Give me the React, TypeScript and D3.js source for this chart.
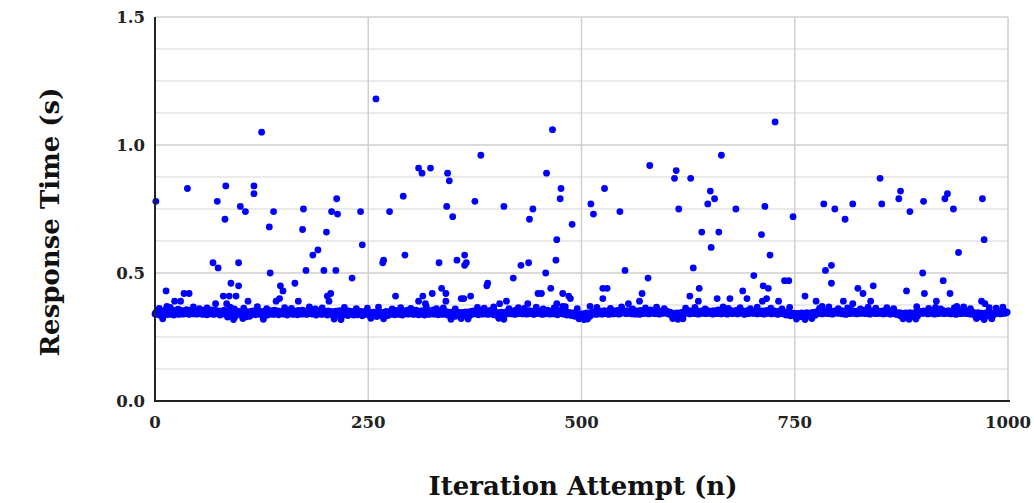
import React from "react";
import * as d3 from "d3";

// baseline response times (ms), one per iteration 0..999
const baselineMs = [
  340,345,338,350,342,347,335,352,344,339,348,341,355,337,346,343,350,338,352,345,341,349,336,354,343,347,340,351,338,356,344,342,348,339,353,346,341,357,343,350,338,355,346,342,351,340,348,344,353,339,
  347,352,341,356,344,349,338,355,346,342,350,337,353,345,348,340,356,343,351,338,347,354,341,349,345,352,336,350,343,348,339,355,344,341,351,328,346,353,340,349,334,345,352,338,330,347,343,351,339,345,
  342,336,349,332,345,340,351,329,347,338,343,331,350,344,339,352,341,348,337,354,343,346,340,351,338,347,335,327,344,352,340,348,336,350,343,339,353,341,347,338,355,344,349,340,352,337,346,343,350,341,
  348,339,353,342,347,336,351,344,340,356,343,349,338,352,345,341,350,337,354,346,342,348,339,355,344,340,351,347,338,353,343,349,341,357,345,339,350,344,348,336,352,342,347,340,354,345,338,351,343,349,
  341,347,336,352,344,339,350,343,337,348,326,345,351,338,346,340,353,335,327,349,342,336,350,344,339,347,334,352,341,345,338,350,343,336,348,340,354,337,346,342,351,339,345,333,349,341,347,338,352,344,
  340,336,345,331,342,338,347,333,344,339,330,346,341,335,348,337,343,332,345,339,336,350,341,334,347,343,338,352,345,340,349,337,354,344,341,351,338,347,343,350,336,353,345,340,348,342,355,339,346,343,
  349,341,352,338,346,343,355,340,348,337,351,344,339,353,342,347,336,350,345,341,354,338,347,343,351,340,356,344,339,348,342,352,337,346,341,350,345,338,353,343,347,340,349,336,344,339,332,347,335,342,
  338,345,331,341,336,347,333,343,339,329,346,337,342,334,348,340,335,344,331,349,342,338,351,344,340,353,346,341,348,337,352,345,343,350,339,355,344,347,341,351,338,346,343,354,340,348,345,337,352,344,
  339,334,345,330,341,336,347,332,343,329,338,346,341,350,344,348,342,353,340,347,345,351,338,355,346,343,349,341,352,344,347,340,354,345,342,350,339,348,346,353,341,347,344,351,338,349,345,356,342,348,
  343,350,341,347,338,352,345,340,349,344,355,342,348,339,351,346,343,353,340,347,345,350,337,354,344,341,348,346,352,339,345,342,350,336,347,343,338,345,334,341,337,344,331,339,346,335,342,332,340,329,
  336,330,341,327,338,333,344,329,339,335,331,343,338,346,341,349,343,338,352,345,340,348,343,351,339,347,345,353,341,348,344,350,338,355,346,342,349,340,352,344,347,341,354,345,339,350,343,348,346,351,
  344,350,341,353,347,342,349,345,355,340,348,344,351,339,352,346,343,350,338,354,345,341,348,347,353,342,349,344,351,340,347,356,343,348,345,352,341,350,346,344,353,339,348,345,351,342,347,349,344,352,
  343,349,340,347,338,345,336,330,342,334,339,328,344,337,332,341,335,346,331,340,345,349,342,351,347,344,353,340,348,346,350,343,355,341,349,345,352,339,347,344,351,348,342,354,345,350,341,347,353,344,
  348,342,351,345,339,353,347,344,350,341,356,346,343,349,340,352,345,348,342,354,347,339,351,344,349,346,353,341,348,345,350,343,355,340,347,344,352,346,349,342,351,338,347,345,353,341,348,344,350,343,
  346,351,342,349,345,353,340,348,344,350,347,341,352,345,339,349,343,354,346,342,348,344,351,340,347,353,345,349,342,350,338,346,344,352,341,348,345,343,339,347,336,344,341,337,345,333,342,339,335,343,
  337,331,340,328,342,335,339,330,344,333,338,327,341,336,345,332,339,343,334,340,329,346,338,342,335,348,344,341,350,346,343,352,340,348,345,351,342,349,347,353,341,346,344,350,339,348,345,352,343,347,
  345,351,342,348,346,353,340,347,344,350,338,349,345,352,341,347,343,354,346,342,349,344,351,340,348,345,353,342,347,350,343,346,355,341,349,344,351,347,339,348,345,352,343,350,346,341,354,344,348,342,
  349,343,351,346,340,353,345,348,342,350,344,347,339,352,345,341,349,343,346,338,344,340,336,345,339,331,342,335,340,329,344,337,333,341,328,345,338,334,342,330,339,346,336,343,332,341,347,344,350,342,
  346,352,343,349,345,351,340,348,344,353,342,347,345,350,339,348,346,352,341,349,344,347,343,355,345,341,350,346,348,342,353,344,347,340,351,345,349,343,352,338,347,344,350,346,341,348,353,345,342,349,
  344,350,341,347,345,352,339,348,343,346,338,344,331,341,336,345,333,340,329,343,337,334,342,330,339,345,335,341,332,344,338,331,343,336,340,346,342,349,344,351,345,340,348,343,350,346,342,349,345,347,
];

// iterations that stick out just above / below the main band
const fringeN = [
  5, 18, 27, 45, 52, 61, 88, 93, 104, 120, 131, 152, 160, 181, 188, 196, 222, 236, 249, 262,
  278, 288, 300, 318, 330, 338, 352, 378, 386, 397, 415, 426, 433, 447, 455, 468, 481, 495, 518, 534,
  547, 560, 575, 588, 597, 622, 633, 645, 666, 672, 686, 698, 706, 722, 735, 744, 779, 790, 801, 812,
  827, 836, 845, 858, 866, 893, 907, 915, 921, 937, 948, 956, 978, 986, 994,
  9, 92, 103, 127, 210, 218, 253, 268, 347, 359, 367, 403, 409, 497, 503, 507, 607, 613, 619, 752,
  762, 770, 877, 884, 892, 963, 972, 981,
];
const fringeMs = [
  362, 366, 359, 368, 361, 364, 367, 360, 363, 369, 361, 365, 362, 368, 360, 364, 366, 361, 363, 367,
  360, 365, 362, 369, 361, 364, 360, 366, 363, 368, 361, 365, 362, 367, 360, 364, 369, 361, 366, 362,
  368, 360, 364, 367, 361, 363, 366, 360, 368, 362, 365, 361, 367, 363, 360, 366, 362, 368, 361, 364,
  360, 367, 363, 365, 361, 369, 362, 366, 360, 364, 368, 361, 365, 363, 367,
  321, 318, 322, 319, 320, 318, 323, 321, 319, 322, 320, 323, 319, 321, 318, 320, 322, 319, 321, 320,
  318, 322, 321, 319, 320, 322, 318, 321,
];

// slow iterations (iteration, seconds)
const outlierN = [
  1, 38, 125, 83, 73, 82, 116, 116, 100, 106, 134, 139, 174, 173, 213, 207, 214, 201, 241, 243,
  68, 74, 98, 135, 185, 191, 177, 198, 212, 231, 13, 34, 40, 89, 98, 80, 87, 95, 147, 150,
  164, 202, 206, 204, 23, 30, 14, 71, 84, 109, 146, 142, 168,
  259, 466, 382, 309, 313, 323, 343, 345, 459, 291, 275, 342, 349, 375, 409, 439, 443,
  476, 475, 489, 471, 470, 458, 464, 267, 268, 293, 333, 354, 363, 363, 365, 429, 438, 420,
  390, 389, 282, 314, 325, 336, 341, 309, 341, 359, 362, 370, 449, 453, 478, 485, 487, 412,
  404, 437, 471, 317, 478,
  727, 664, 580, 611, 609, 628, 527, 511, 514, 545, 614, 651, 656, 648, 681, 715, 748, 641,
  661, 652, 711, 721, 551, 631, 578, 702, 713, 719, 738, 743, 525, 530, 525, 571, 568, 638,
  627, 659, 674, 689, 694, 717, 712, 731, 637, 510, 555,
  850, 784, 797, 809, 818, 852, 874, 872, 885, 901, 929, 926, 936, 970, 972, 942, 786, 793,
  793, 900, 924, 824, 830, 842, 881, 902, 932, 762, 775, 807, 839, 916, 969, 973, 782, 818, 940,
];
const outlierT = [
  0.78, 0.83, 1.05, 0.84, 0.78, 0.71, 0.84, 0.81, 0.76, 0.74, 0.68, 0.74, 0.75, 0.67, 0.79, 0.74, 0.73, 0.66, 0.74, 0.61,
  0.54, 0.52, 0.54, 0.50, 0.57, 0.59, 0.51, 0.51, 0.51, 0.48, 0.43, 0.42, 0.42, 0.46, 0.45, 0.41, 0.41, 0.41, 0.45, 0.43,
  0.46, 0.41, 0.42, 0.39, 0.39, 0.39, 0.37, 0.38, 0.38, 0.39, 0.40, 0.39, 0.39,
  1.18, 1.06, 0.96, 0.91, 0.89, 0.91, 0.89, 0.86, 0.89, 0.80, 0.74, 0.76, 0.72, 0.78, 0.76, 0.71, 0.75,
  0.83, 0.79, 0.69, 0.63, 0.55, 0.50, 0.44, 0.54, 0.55, 0.57, 0.54, 0.55, 0.57, 0.53, 0.54, 0.53, 0.54, 0.48,
  0.46, 0.45, 0.41, 0.41, 0.42, 0.44, 0.42, 0.39, 0.39, 0.40, 0.40, 0.41, 0.42, 0.42, 0.42, 0.41, 0.40, 0.39,
  0.38, 0.38, 0.38, 0.38, 0.37,
  1.09, 0.96, 0.92, 0.90, 0.87, 0.87, 0.83, 0.77, 0.73, 0.74, 0.75, 0.82, 0.79, 0.77, 0.75, 0.76, 0.72, 0.66,
  0.66, 0.60, 0.65, 0.57, 0.51, 0.52, 0.48, 0.49, 0.45, 0.44, 0.47, 0.47, 0.44, 0.44, 0.40, 0.42, 0.39, 0.44,
  0.41, 0.40, 0.40, 0.43, 0.40, 0.40, 0.39, 0.39, 0.39, 0.37, 0.38,
  0.87, 0.77, 0.75, 0.71, 0.77, 0.77, 0.82, 0.79, 0.74, 0.78, 0.81, 0.79, 0.75, 0.79, 0.63, 0.58, 0.51, 0.53,
  0.46, 0.50, 0.47, 0.44, 0.42, 0.45, 0.43, 0.42, 0.42, 0.41, 0.39, 0.39, 0.39, 0.39, 0.39, 0.38, 0.37, 0.38, 0.37,
];

const yTicks = [0, 0.5, 1.0, 1.5];
const yGrid = [0.125, 0.25, 0.375, 0.625, 0.75, 0.875, 1.125, 1.25, 1.375];
const xTicks = [0, 250, 500, 750, 1000];

const width = 1034;
const height = 503;
const font = "'DejaVu Serif', Georgia, serif";

const App = () => {
  const x = d3.scaleLinear().domain([0, 1000]).range([155, 1008]);
  const y = d3.scaleLinear().domain([0, 1.5]).range([401, 17]);

  const points = [
    ...baselineMs.map((ms, i) => ({ n: i, t: ms / 1000 })),
    ...fringeN.map((n, i) => ({ n, t: fringeMs[i] / 1000 })),
    ...outlierN.map((n, i) => ({ n, t: outlierT[i] })),
  ];

  return (
    <svg
      width={width}
      height={height}
      style={{ position: "absolute", left: 0, top: 0, background: "#fff" }}
      fontFamily={font}
      fontWeight="bold"
    >
      {/* minor gridlines */}
      <g stroke="#e3e3e3" strokeWidth={1.5}>
        {yGrid.map((v) => (
          <line key={v} x1={x(0)} x2={x(1000)} y1={y(v)} y2={y(v)} />
        ))}
      </g>
      {/* major gridlines */}
      <g stroke="#cfcfcf" strokeWidth={1.5}>
        {yTicks.slice(1).map((v) => (
          <line key={v} x1={x(0)} x2={x(1000)} y1={y(v)} y2={y(v)} />
        ))}
        {xTicks.slice(1).map((v) => (
          <line key={v} x1={x(v)} x2={x(v)} y1={y(0)} y2={y(1.5)} />
        ))}
      </g>

      <g fill="#0000ff">
        {points.map((p, i) => (
          <circle key={i} cx={x(p.n)} cy={y(p.t)} r={3.4} />
        ))}
      </g>

      {/* axes */}
      <line x1={x(0)} x2={x(0)} y1={y(1.5)} y2={y(0) + 1} stroke="#222" strokeWidth={2} />
      <line x1={x(0) - 1} x2={x(1000) + 2} y1={y(0)} y2={y(0)} stroke="#222" strokeWidth={2} />

      <g fontSize={16.5} fill="#222" textAnchor="end">
        {yTicks.map((v) => (
          <text key={v} x={145} y={y(v)} dy="0.35em">
            {v.toFixed(1)}
          </text>
        ))}
      </g>
      <g fontSize={16.5} fill="#222" textAnchor="middle">
        {xTicks.map((v) => (
          <text key={v} x={x(v)} y={428}>
            {v}
          </text>
        ))}
      </g>

      <text x={583} y={495} fontSize={26} textAnchor="middle" fill="#111">
        Iteration Attempt (n)
      </text>
      <text
        transform={`translate(59,222) rotate(-90)`}
        fontSize={26}
        textAnchor="middle"
        fill="#111"
      >
        Response Time (s)
      </text>
    </svg>
  );
};

export default App;
